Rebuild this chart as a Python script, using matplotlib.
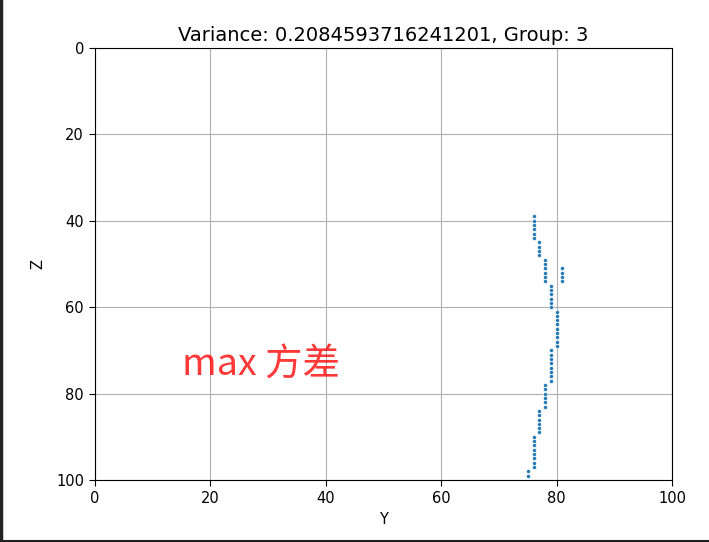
import numpy as np
import matplotlib.pyplot as plt
from matplotlib.lines import Line2D

plt.rcParams['font.family'] = ['DejaVu Sans', 'Noto Sans CJK SC']
plt.rcParams['font.size'] = 10.5
plt.rcParams['xtick.major.size'] = 4.4
plt.rcParams['ytick.major.size'] = 4.4

# runs of points (x value, first z, last z)
run_x = [76, 77, 78, 81, 79, 80, 79, 78, 77, 76, 75]
run_z0 = [39, 45, 49, 51, 55, 61, 70, 78, 84, 90, 98]
run_z1 = [44, 48, 54, 54, 60, 69, 77, 83, 89, 97, 99]

ys = []
zs = []
for x, z0, z1 in zip(run_x, run_z0, run_z1):
    for z in range(z0, z1 + 1):
        ys.append(x)
        zs.append(z)

variance = 0.2084593716241201
group = 3

fig = plt.figure(figsize=(7.09, 5.42), dpi=100)
ax = fig.add_axes([95 / 709, 1 - 480 / 542, 577 / 709, 432 / 542])
ax.scatter(ys, zs, s=8, color='#1f77b4', edgecolor='white', linewidth=0.4)
ax.set_xlim(0, 100)
ax.set_ylim(100, 0)
ax.set_xlabel("Y")
ax.set_ylabel("Z", labelpad=8)
ax.set_title(f"Variance: {variance}, Group: {group}", fontsize=14, pad=5)
ax.grid(True)
ax.set_axisbelow(True)
ax.text(15, 75.8, "max 方差", color='red', alpha=0.78, fontsize=27,
        family=['Noto Sans CJK SC', 'DejaVu Sans'])

# screenshot frame on left and bottom
fig.add_artist(Line2D([0.0015, 0.0015], [0, 1], color='#222222', lw=2.5,
                      transform=fig.transFigure))
fig.add_artist(Line2D([0, 1], [0.001, 0.001], color='#222222', lw=1.5,
                      transform=fig.transFigure))

plt.savefig("out.png", dpi=100)
